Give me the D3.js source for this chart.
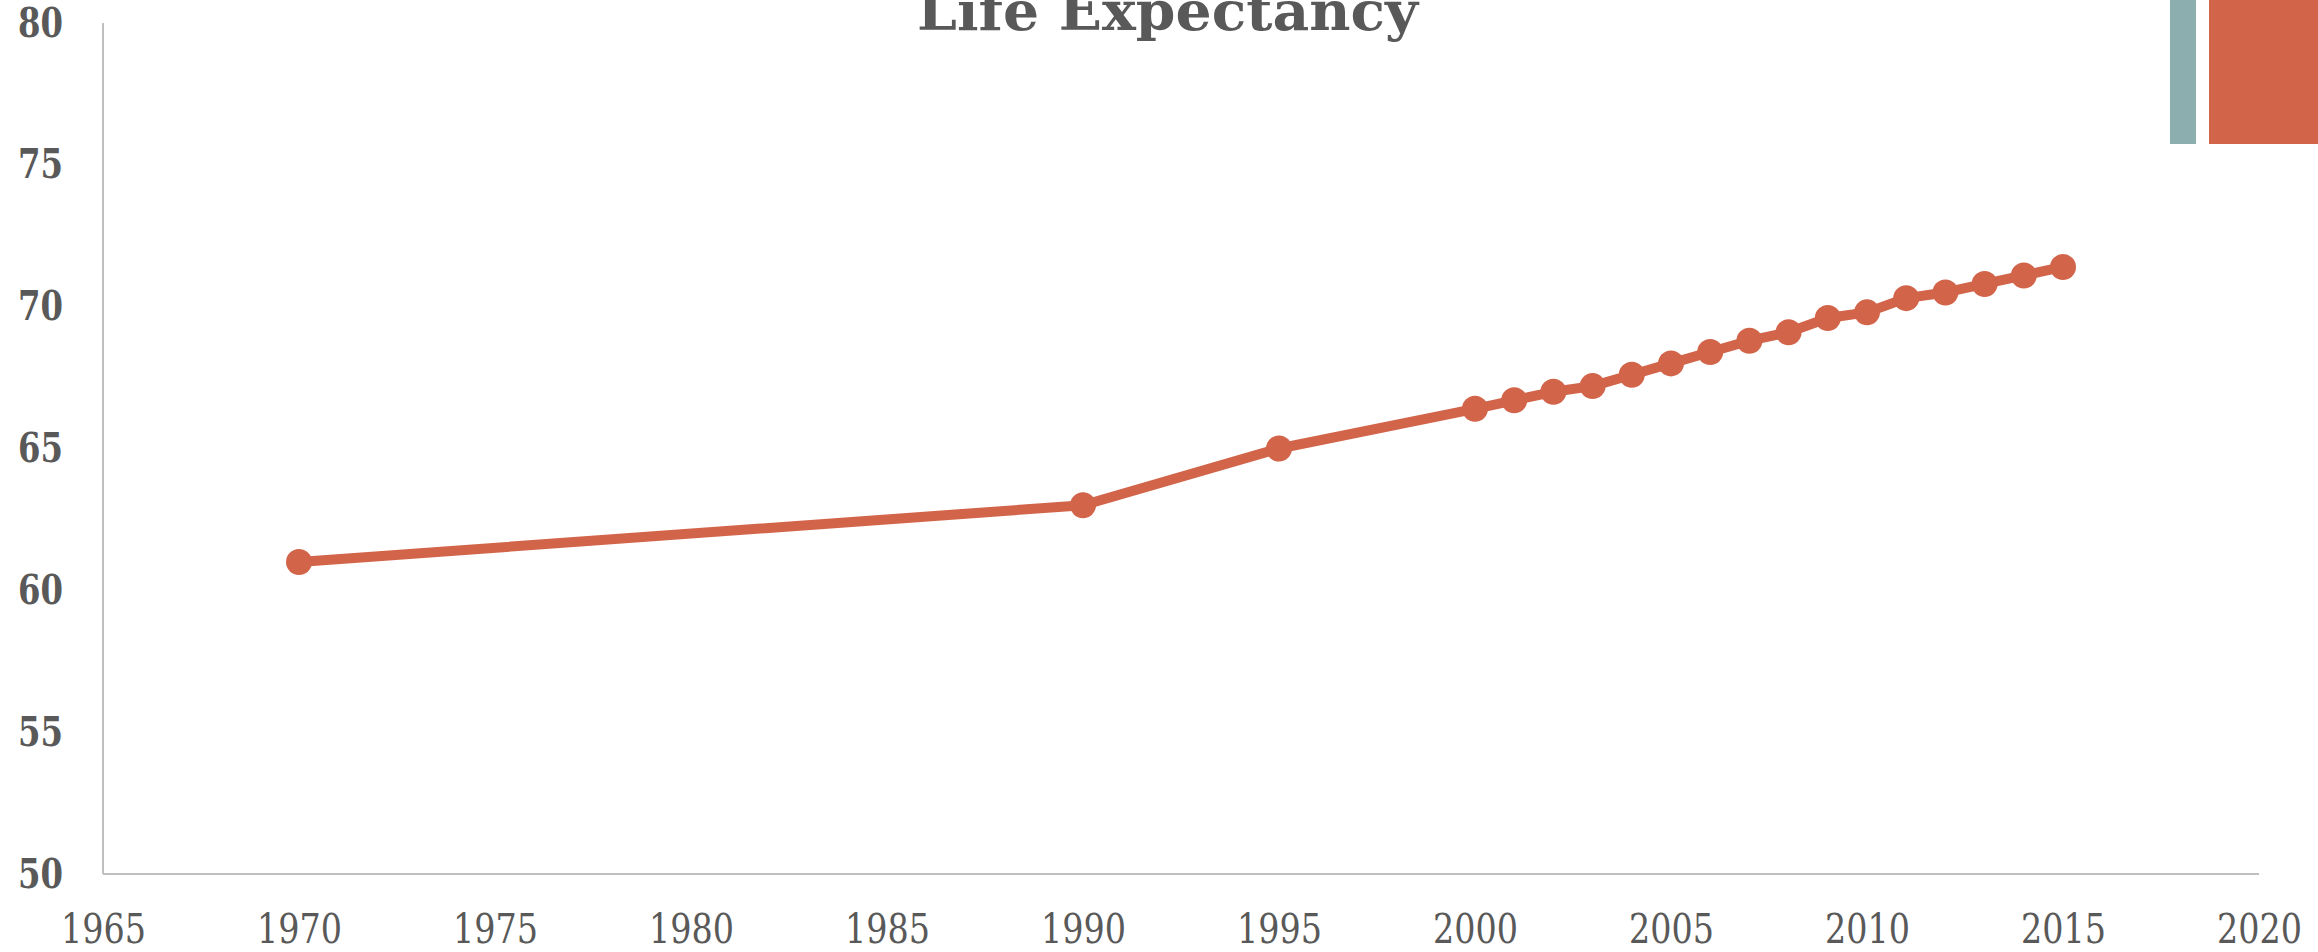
<!DOCTYPE html>
<html>
<head>
<meta charset="utf-8">
<script src="https://cdn.jsdelivr.net/npm/d3@7"></script>
<style>
  html, body { margin: 0; padding: 0; background: #fff; }
  svg { display: block; }
  .axis path { stroke: #bfbfbf; stroke-width: 2; }
  .axis line { display: none; }
  .axis text { fill: #595959; font-family: "DejaVu Serif", serif; }
</style>
</head>
<body>
<svg id="chart"></svg>
<script>
// life expectancy
const years = [1970, 1990, 1995, 2000, 2001, 2002, 2003, 2004, 2005, 2006, 2007,
  2008, 2009, 2010, 2011, 2012, 2013, 2014, 2015];
const lifeExp = [61.0, 63.0, 65.0, 66.4, 66.7, 67.0, 67.2, 67.6, 68.0, 68.4, 68.8,
  69.1, 69.6, 69.8, 70.3, 70.5, 70.8, 71.1, 71.4];
const xTicks = [1965, 1970, 1975, 1980, 1985, 1990, 1995, 2000, 2005, 2010, 2015, 2020];
const yTicks = [50, 55, 60, 65, 70, 75, 80];
const title = "Life Expectancy";

const width = 2318;
const height = 952;
const color = "#d2644a";

const svg = d3.select("#chart").attr("width", width).attr("height", height);

const x = d3.scaleLinear().domain([1965, 2020]).range([103, 2259]);
const y = d3.scaleLinear().domain([50, 80]).range([874, 23]);

// decorative blocks top right
svg.append("rect").attr("x", 2170).attr("y", 0).attr("width", 26).attr("height", 144).attr("fill", "#8daeae");
svg.append("rect").attr("x", 2209).attr("y", 0).attr("width", 109).attr("height", 144).attr("fill", color);

// x axis
const xAxis = svg.append("g")
  .attr("class", "axis")
  .attr("transform", `translate(0,${y(50)})`)
  .call(d3.axisBottom(x).tickValues(xTicks).tickFormat(d3.format("d")).tickSize(0).tickPadding(0));
xAxis.select(".domain").attr("d", `M${x(1965)},0H${x(2020)}`);
xAxis.selectAll("text")
  .attr("dy", null)
  .attr("y", 69)
  .attr("font-size", 41)
  .attr("textLength", 85)
  .attr("lengthAdjust", "spacingAndGlyphs");

// y axis
const yAxis = svg.append("g")
  .attr("class", "axis")
  .attr("transform", `translate(${x(1965)},0)`)
  .call(d3.axisLeft(y).tickValues(yTicks).tickSize(0).tickPadding(40));
yAxis.select(".domain").attr("d", `M0,${y(80)}V${y(50)}`);
yAxis.selectAll("text")
  .attr("font-size", 41)
  .attr("font-weight", "bold")
  .attr("textLength", 45)
  .attr("lengthAdjust", "spacingAndGlyphs");

// title, partly off the top edge like the original
svg.append("text")
  .attr("x", 1167.5)
  .attr("y", 30)
  .attr("text-anchor", "middle")
  .attr("font-family", "DejaVu Serif, serif")
  .attr("font-weight", "bold")
  .attr("font-size", 54)
  .attr("fill", "#595959")
  .attr("textLength", 501)
  .attr("lengthAdjust", "spacingAndGlyphs")
  .text(title);

const data = years.map((yr, i) => ({ year: yr, value: lifeExp[i] }));

const line = d3.line()
  .x(d => x(d.year))
  .y(d => y(d.value));

svg.append("path")
  .datum(data)
  .attr("fill", "none")
  .attr("stroke", color)
  .attr("stroke-width", 10)
  .attr("stroke-linejoin", "round")
  .attr("d", line);

svg.selectAll("circle.pt")
  .data(data)
  .enter()
  .append("circle")
  .attr("class", "pt")
  .attr("cx", d => x(d.year))
  .attr("cy", d => y(d.value))
  .attr("r", 13)
  .attr("fill", color);
</script>
</body>
</html>
